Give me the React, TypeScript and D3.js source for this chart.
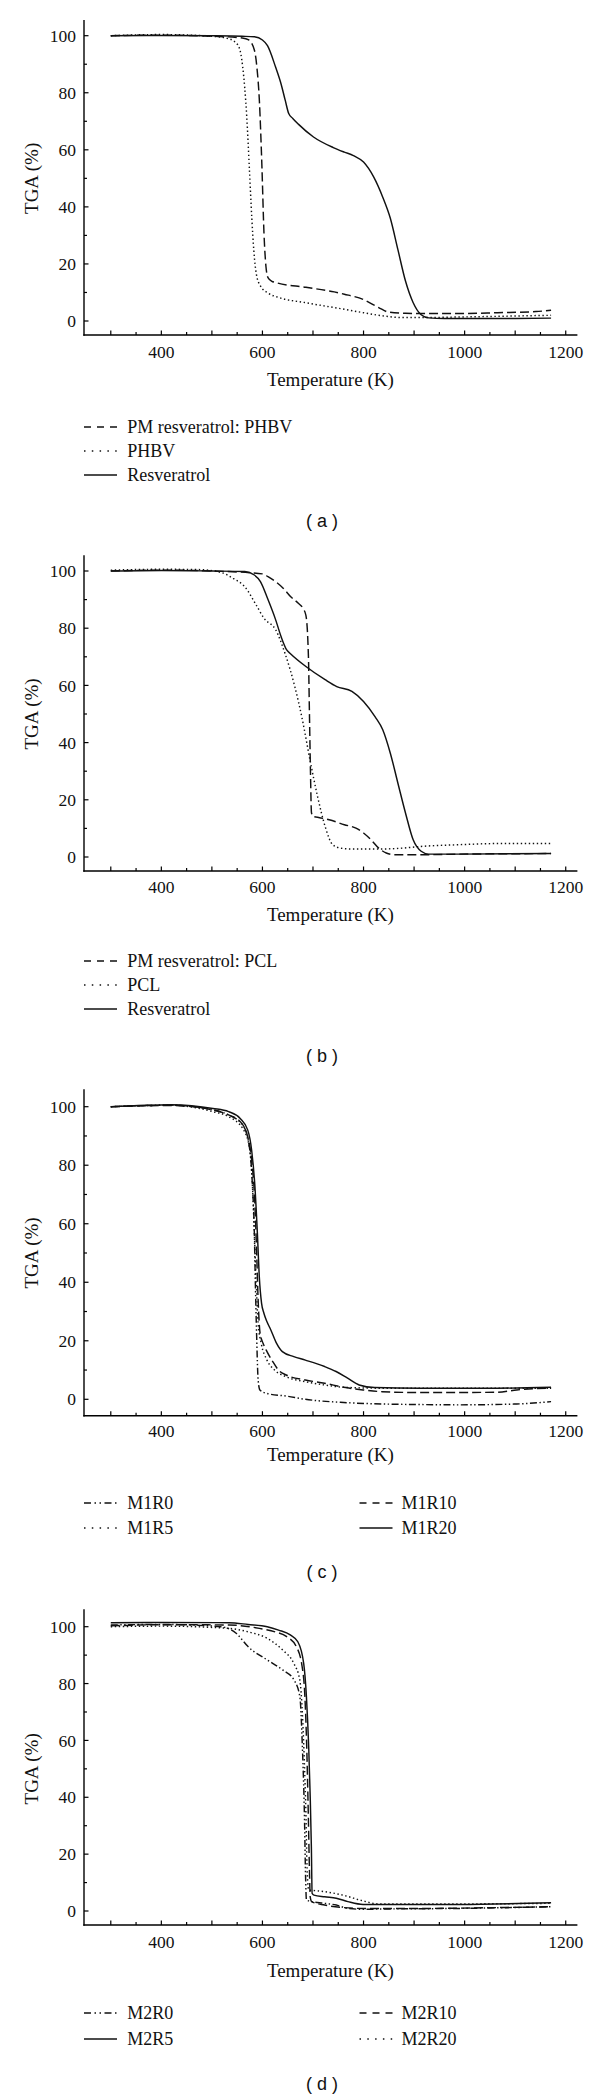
import React from "react";
import * as d3 from "d3";

type Pt = [number, number];
type LineStyle = "solid" | "dashed" | "dotted" | "dashdotdot";

// ---------- axis ticks ----------
const xLabelTicks = [400, 600, 800, 1000, 1200];
const yLabelTicks = [0, 20, 40, 60, 80, 100];
const xTickValues = d3.range(300, 1201, 50);
const yTickValues = d3.range(0, 101, 10);

// ---------- panel (a) ----------
const aPMresPHBV: Pt[] = [
  [300, 100], [400, 100.2], [500, 99.8], [560, 99.2], [573, 98.5], [584, 95], [589, 89], [594, 77],
  [599, 54], [603, 31], [607, 19], [611, 15.2], [618, 14], [626, 13.5], [686, 11.8], [742, 10.2],
  [762, 9.4], [800, 7.5], [830, 4.7], [850, 3.1], [883, 2.7], [914, 2.6], [989, 2.6], [1065, 2.9],
  [1141, 3.3], [1171, 3.8],
];
const aPHBV: Pt[] = [
  [300, 100], [400, 100.4], [500, 99.8], [527, 99.2], [542, 98.3], [554, 95.8], [561, 89], [569, 71.5],
  [574, 54], [579, 36], [583, 24.6], [588, 16.4], [596, 12.3], [611, 9.8], [633, 8.2], [686, 6.4],
  [762, 4.1], [800, 2.9], [838, 1.8], [876, 1.2], [914, 1.2], [989, 1.4], [1171, 2.0],
];
const aResveratrol: Pt[] = [
  [300, 100], [400, 100.1], [500, 100], [560, 99.8], [584, 99.6], [600, 98.5], [610, 96.5], [626, 89],
  [637, 83], [645, 77.4], [652, 72.7], [660, 71], [671, 69], [701, 64.5], [740, 60.8], [762, 59.2],
  [780, 58], [800, 55.7], [820, 50.5], [838, 43.4], [853, 36], [868, 25], [883, 14], [898, 6.5],
  [914, 2.2], [929, 1.1], [960, 0.9], [1100, 0.9], [1171, 1.0],
];

// ---------- panel (b) ----------
const bPMresPCL: Pt[] = [
  [300, 100], [400, 100.3], [500, 100], [600, 99], [611, 98], [626, 96.3], [641, 94], [656, 91],
  [671, 88.7], [680, 87], [686, 84.5], [691, 70], [693, 50], [695, 30], [697, 15.5], [700, 14.2],
  [709, 13.9], [732, 13], [762, 11.3], [785, 10.1], [800, 8.4], [815, 6], [830, 3.1], [845, 1.4],
  [861, 0.8], [914, 0.8], [989, 1], [1171, 1.2],
];
const bPCL: Pt[] = [
  [300, 100.3], [400, 100.6], [474, 100.5], [520, 99.4], [542, 97.4], [565, 94.5], [588, 88],
  [603, 83.5], [626, 79.5], [645, 71], [664, 59.6], [679, 48], [694, 34], [709, 21.2], [724, 10.7],
  [739, 4.3], [755, 3.1], [777, 2.8], [838, 2.8], [876, 3.1], [914, 3.7], [989, 4.3], [1065, 4.7],
  [1171, 4.7],
];
const bResveratrol: Pt[] = [
  [300, 100], [400, 100.2], [500, 100], [565, 99.8], [584, 98.6], [596, 96.3], [611, 90], [626, 83],
  [637, 77], [648, 72.4], [656, 71], [686, 66.6], [724, 62], [747, 59.6], [777, 57.9], [800, 54.4],
  [823, 49], [838, 44.5], [853, 36.3], [868, 25.8], [883, 15.4], [898, 6.1], [914, 2], [929, 1],
  [989, 1], [1171, 1.2],
];

// ---------- panel (c) ----------
const cM1R0: Pt[] = [
  [300, 100], [420, 100.5], [502, 98.9], [533, 97.2], [563, 93.2], [575, 85.2], [580, 73.8],
  [584, 56.7], [586, 39.6], [588.4, 22.6], [591.5, 6.6], [595, 3.2], [609, 2], [647, 1.1], [685, 0],
  [761, -1.1], [837, -1.6], [913, -1.8], [989, -1.9], [1103, -1.6], [1171, -0.8],
];
const cM1R5: Pt[] = [
  [300, 100], [420, 100.5], [502, 98.3], [533, 96.6], [563, 92], [575, 85.2], [580, 73.8],
  [584, 56.7], [587.7, 39.6], [591.5, 26], [597.6, 19.1], [609, 13.4], [624, 10], [647, 7.7],
  [685, 6], [723, 4.9], [761, 4.1], [837, 3.8], [989, 3.8], [1171, 3.8],
];
const cM1R10: Pt[] = [
  [300, 100], [420, 100.4], [502, 98.9], [533, 97.2], [556, 94.9], [571, 89.7], [578.6, 81.8],
  [584.7, 68.1], [588.4, 51], [591.5, 33.9], [595.3, 22.6], [601.4, 19.1], [609, 16.3],
  [620.4, 12.9], [631.8, 10], [647, 8.3], [685, 6.6], [723, 5.5], [761, 4.1], [799, 3.2], [837, 2.6],
  [913, 2.3], [1065, 2.4], [1103, 3.2], [1171, 3.8],
];
const cM1R20: Pt[] = [
  [300, 100], [420, 100.7], [502, 99.4], [533, 98.3], [556, 96], [571, 92], [578.6, 85.2],
  [584.7, 73.8], [590, 56.7], [593.8, 41.9], [598.3, 32.8], [602.9, 29.4], [609, 26.5],
  [616.6, 23.7], [628, 19.1], [639.4, 16.3], [662, 14.6], [685, 13.4], [723, 11.2], [745.7, 9.5],
  [768.5, 7.2], [791.3, 4.9], [821.7, 4], [913, 3.8], [1065, 3.8], [1171, 4.1],
];

// ---------- panel (d) ----------
const dM2R0: Pt[] = [
  [300, 100.6], [400, 100.8], [518, 100], [548, 97.7], [571.5, 93], [609.5, 88.3], [640, 84.8],
  [662.6, 81.2], [674, 75.4], [679, 57.8], [683, 34.3], [685.5, 10.9], [687, 3.9], [693, 3.5],
  [723, 2.7], [746, 2.1], [769, 0.9], [799, 0.6], [837, 0.7], [989, 0.9], [1171, 1.5],
];
const dM2R5: Pt[] = [
  [300, 101.4], [400, 101.5], [534, 101.4], [571.5, 100.8], [609.5, 100], [632, 98.8], [655, 97.1],
  [670, 94.7], [681.6, 87.1], [687, 75.4], [691.5, 57.8], [694.5, 40.2], [696.8, 22.6],
  [698.3, 6.2], [702, 5.6], [723, 5], [746, 4.5], [769, 3.3], [799, 2.3], [837, 2.3], [989, 2.3],
  [1171, 2.9],
];
const dM2R10: Pt[] = [
  [300, 100.3], [400, 100.7], [534, 100.6], [594, 99.4], [625, 98.2], [648, 96.5], [667, 93],
  [678.5, 86], [684, 75.4], [687.6, 57.8], [690.7, 34.3], [693, 14.4], [694.5, 5], [697.5, 3.3],
  [723, 2.1], [761, 1.2], [799, 0.9], [913, 0.9], [1065, 1.2], [1171, 1.5],
];
const dM2R20: Pt[] = [
  [300, 100], [400, 100.2], [534, 99.4], [571.5, 98.2], [609.5, 95.9], [640, 91.8], [662, 87.1],
  [674, 81.2], [679, 69.5], [683, 51.9], [686, 34.3], [688, 16.8], [691.5, 7.4], [697, 7.3],
  [723, 6.8], [761, 5.5], [800, 3.5], [830, 2.5], [989, 2.5], [1171, 2.7],
];

// ---------- layout ----------
const W = 600;
const H = 2099;
const X0 = 84;
const X1 = 576.7;
const xScale = d3.scaleLinear().domain([247, 1221.7]).range([X0, X1]);

const curveDash: Record<LineStyle, string | undefined> = {
  solid: undefined,
  dashed: "9,4",
  dotted: "1.4,2.6",
  dashdotdot: "7,2.5,1.4,2.5,1.4,2.5",
};
const legendDash: Record<LineStyle, string | undefined> = {
  solid: undefined,
  dashed: "7,6",
  dotted: "1.5,6.3",
  dashdotdot: "7,3.5,1.5,3.5,1.5,3.5",
};

type Series = { name: string; data: Pt[]; style: LineStyle; col: number; row: number };
type Geo = {
  y100: number; y0: number; axisTop: number; axisBottom: number; tickLabelY: number;
  titleY: number; legendY: number[]; captionY: number;
};

const SERIF = "'Liberation Serif', 'Times New Roman', serif";
const SANS = "'Liberation Sans', Arial, sans-serif";

const panels: { geo: Geo; series: Series[]; caption: string }[] = [
  {
    geo: { y100: 35.7, y0: 321, axisTop: 20.7, axisBottom: 335, tickLabelY: 358, titleY: 386, legendY: [433, 457, 481], captionY: 527 },
    caption: "( a )",
    series: [
      { name: "PM resveratrol: PHBV", data: aPMresPHBV, style: "dashed", col: 0, row: 0 },
      { name: "PHBV", data: aPHBV, style: "dotted", col: 0, row: 1 },
      { name: "Resveratrol", data: aResveratrol, style: "solid", col: 0, row: 2 },
    ],
  },
  {
    geo: { y100: 571, y0: 857, axisTop: 556, axisBottom: 871, tickLabelY: 893, titleY: 921, legendY: [967, 991, 1015], captionY: 1062 },
    caption: "( b )",
    series: [
      { name: "PM resveratrol: PCL", data: bPMresPCL, style: "dashed", col: 0, row: 0 },
      { name: "PCL", data: bPCL, style: "dotted", col: 0, row: 1 },
      { name: "Resveratrol", data: bResveratrol, style: "solid", col: 0, row: 2 },
    ],
  },
  {
    geo: { y100: 1106.7, y0: 1399.3, axisTop: 1090, axisBottom: 1415.7, tickLabelY: 1437, titleY: 1461, legendY: [1509, 1534], captionY: 1578 },
    caption: "( c )",
    series: [
      { name: "M1R0", data: cM1R0, style: "dashdotdot", col: 0, row: 0 },
      { name: "M1R5", data: cM1R5, style: "dotted", col: 0, row: 1 },
      { name: "M1R10", data: cM1R10, style: "dashed", col: 1, row: 0 },
      { name: "M1R20", data: cM1R20, style: "solid", col: 1, row: 1 },
    ],
  },
  {
    geo: { y100: 1626.7, y0: 1911, axisTop: 1610, axisBottom: 1925, tickLabelY: 1948, titleY: 1977, legendY: [2019, 2045], captionY: 2090 },
    caption: "( d )",
    series: [
      { name: "M2R0", data: dM2R0, style: "dashdotdot", col: 0, row: 0 },
      { name: "M2R5", data: dM2R5, style: "solid", col: 0, row: 1 },
      { name: "M2R10", data: dM2R10, style: "dashed", col: 1, row: 0 },
      { name: "M2R20", data: dM2R20, style: "dotted", col: 1, row: 1 },
    ],
  },
];

const legendLineX = [84, 359.5];
const legendTextX = [127.3, 401.5];
const legendLineLen = 33;

function Panel({ geo, series, caption }: { geo: Geo; series: Series[]; caption: string }) {
  const y = d3.scaleLinear().domain([0, 100]).range([geo.y0, geo.y100]);
  const line = d3
    .line<Pt>()
    .x((d) => xScale(d[0]))
    .y((d) => y(d[1]))
    .curve(d3.curveMonotoneX);
  const midY = (geo.y0 + geo.y100) / 2;
  return (
    <g>
      {series.map((s) => (
        <path
          key={s.name}
          d={line(s.data) || ""}
          fill="none"
          stroke="#111"
          strokeWidth={1.45}
          strokeDasharray={curveDash[s.style]}
        />
      ))}
      <line x1={X0} x2={X0} y1={geo.axisTop} y2={geo.axisBottom} stroke="#000" strokeWidth={1.4} strokeLinecap="square" />
      <line x1={X0} x2={X1} y1={geo.axisBottom} y2={geo.axisBottom} stroke="#000" strokeWidth={1.4} strokeLinecap="square" />
      {yTickValues.map((v) => (
        <line key={"yt" + v} x1={X0} x2={X0 + (v % 20 === 0 ? 4.5 : 3)} y1={y(v)} y2={y(v)} stroke="#000" strokeWidth={1.2} />
      ))}
      {xTickValues.map((t) => (
        <line key={"xt" + t} x1={xScale(t)} x2={xScale(t)} y1={geo.axisBottom} y2={geo.axisBottom - (t % 100 === 0 ? 4.5 : 3)} stroke="#000" strokeWidth={1.2} />
      ))}
      {yLabelTicks.map((v) => (
        <text key={"yl" + v} x={76} y={y(v)} dy="0.35em" textAnchor="end" fontFamily={SERIF} fontSize={17.5} fill="#111">
          {v}
        </text>
      ))}
      {xLabelTicks.map((t) => (
        <text key={"xl" + t} x={xScale(t)} y={geo.tickLabelY} textAnchor="middle" fontFamily={SERIF} fontSize={17.5} fill="#111">
          {t}
        </text>
      ))}
      <text x={(X0 + X1) / 2} y={geo.titleY} textAnchor="middle" fontFamily={SERIF} fontSize={19} fill="#111">
        Temperature (K)
      </text>
      <text transform={`translate(38,${midY}) rotate(-90)`} textAnchor="middle" fontFamily={SERIF} fontSize={19} fill="#111">
        TGA (%)
      </text>
      {series.map((s) => {
        const ly = geo.legendY[s.row];
        return (
          <g key={"lg" + s.name}>
            <line
              x1={legendLineX[s.col]}
              x2={legendLineX[s.col] + legendLineLen}
              y1={ly - 6}
              y2={ly - 6}
              stroke="#111"
              strokeWidth={1.5}
              strokeDasharray={legendDash[s.style]}
            />
            <text x={legendTextX[s.col]} y={ly} fontFamily={SERIF} fontSize={18} fill="#111">
              {s.name}
            </text>
          </g>
        );
      })}
      <text x={322} y={geo.captionY} textAnchor="middle" fontFamily={SANS} fontSize={18} fill="#111" style={{ whiteSpace: "pre" }}>
        {caption}
      </text>
    </g>
  );
}

export default function App() {
  return (
    <>
      <style>{"body{margin:0;background:#fff}"}</style>
      <svg width={W} height={H} viewBox={`0 0 ${W} ${H}`} style={{ display: "block", background: "#fff" }}>
        {panels.map((p, i) => (
          <Panel key={i} geo={p.geo} series={p.series} caption={p.caption} />
        ))}
      </svg>
    </>
  );
}
